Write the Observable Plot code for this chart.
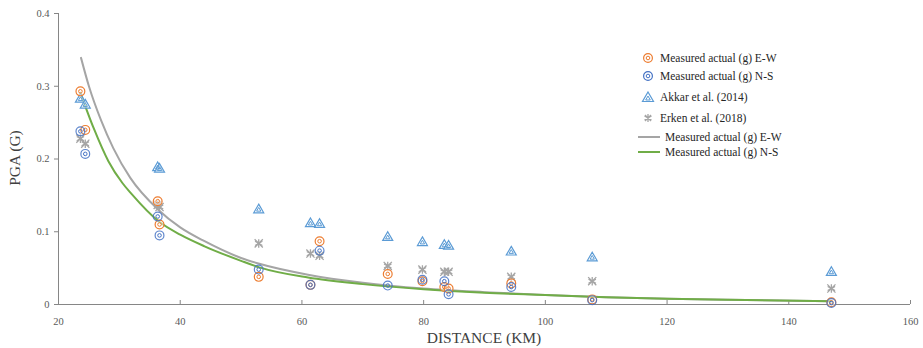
<!DOCTYPE html>
<html>
<head>
<meta charset="utf-8">
<script src="https://cdn.jsdelivr.net/npm/d3@7"></script>
<script src="https://cdn.jsdelivr.net/npm/@observablehq/plot@0.6"></script>
<style>
  html, body { margin: 0; padding: 0; background: #fff; }
  #wrap { position: relative; width: 923px; height: 348px; font-family: "Liberation Serif", "Times New Roman", serif; }
  #legend { position: absolute; left: 636px; top: 50px; font-size: 11.5px; color: #262626; font-family: "Liberation Serif", "Times New Roman", serif; }
  #legend .row { position: absolute; white-space: nowrap; display: flex; align-items: center; }
  #legend svg { display: block; }
</style>
</head>
<body>
<div id="wrap"></div>
<script>
// Station distances (km)
const distances = [23.6, 24.4, 36.3, 36.6, 52.9, 61.4, 62.9, 74.1, 79.8, 83.4, 84.1, 94.4, 107.7, 147.0];
// PGA (g) series
const measuredEW = [0.293, 0.240, 0.142, 0.110, 0.038, 0.027, 0.087, 0.042, 0.032, 0.024, 0.022, 0.029, 0.007, 0.003];
const measuredNS = [0.238, 0.207, 0.121, 0.095, 0.048, 0.027, 0.074, 0.026, 0.034, 0.032, 0.014, 0.024, 0.006, 0.002];
const akkar2014  = [0.282, 0.274, 0.188, 0.186, 0.130, 0.111, 0.110, 0.092, 0.085, 0.081, 0.080, 0.072, 0.064, 0.044];
const erken2018  = [0.228, 0.221, 0.137, 0.134, 0.084, 0.070, 0.067, 0.053, 0.048, 0.045, 0.045, 0.038, 0.032, 0.022];

// Trend lines
const trendEWDist = [23.7, 25, 27, 29, 31.8, 36.3, 40, 44, 50, 53, 61, 70, 80, 90, 100, 110, 120, 130, 147];
const trendEWPga  = [0.339, 0.300, 0.253, 0.215, 0.174, 0.131, 0.106, 0.087, 0.064, 0.056, 0.041, 0.030, 0.022, 0.017, 0.013, 0.010, 0.008, 0.0065, 0.0045];
const trendNSDist = [23.6, 25.8, 28.2, 30.5, 32, 36.5, 40, 44, 50, 53, 61, 70, 80, 90, 100, 110, 120, 130, 147];
const trendNSPga  = [0.291, 0.242, 0.197, 0.167, 0.152, 0.114, 0.096, 0.080, 0.060, 0.051, 0.037, 0.028, 0.021, 0.016, 0.013, 0.010, 0.008, 0.0065, 0.0045];

const xTicks = [20, 40, 60, 80, 100, 120, 140, 160];
const yTicks = [0, 0.1, 0.2, 0.3, 0.4];

const legendLabels = ["Measured actual (g) E-W", "Measured actual (g) N-S", "Akkar et al. (2014)", "Erken et al. (2018)", "Measured actual (g) E-W", "Measured actual (g) N-S"];

const C = { ew: "#ED7D31", ns: "#4472C4", akkar: "#5B9BD5", erken: "#A5A5A5", lineEW: "#A5A5A5", lineNS: "#70AD47", axis: "#868686", text: "#595959" };

const pts = (ys) => distances.map((d, i) => ({x: d, y: ys[i]}));
const line = (xs, ys) => xs.map((d, i) => ({x: d, y: ys[i]}));

const ew = pts(measuredEW), ns = pts(measuredNS), ak = pts(akkar2014), er = pts(erken2018);

const chart = Plot.plot({
  width: 923,
  height: 348,
  marginTop: 13,
  marginRight: 13,
  marginBottom: 44,
  marginLeft: 58,
  style: { fontFamily: '"Liberation Serif", "Times New Roman", serif', background: "#fff" },
  x: { domain: [20, 160], ticks: xTicks },
  y: { domain: [0, 0.4], ticks: yTicks },
  marks: [
    Plot.ruleY([0], { stroke: C.axis, strokeWidth: 1 }),
    Plot.ruleX([20], { stroke: C.axis, strokeWidth: 1 }),
    Plot.axisX({ ticks: xTicks, tickSize: -4, stroke: C.axis, tickPadding: 17, fontSize: 10.5, color: C.text, label: null, tickFormat: d => String(d) }),
    Plot.axisY({ ticks: yTicks, tickSize: 4, stroke: C.axis, tickPadding: 5, fontSize: 10.5, color: C.text, label: null, tickFormat: d => String(d) }),
    Plot.line(line(trendEWDist, trendEWPga), { x: "x", y: "y", stroke: C.lineEW, strokeWidth: 2, curve: "monotone-x" }),
    Plot.line(line(trendNSDist, trendNSPga), { x: "x", y: "y", stroke: C.lineNS, strokeWidth: 2, curve: "monotone-x" }),
    // Erken asterisks
    Plot.dot(er, { x: "x", y: "y", symbol: "asterisk", r: 4, stroke: C.erken, strokeWidth: 1.3 }),
    Plot.dot(er, { x: "x", y: "y", symbol: "times", r: 3.8, stroke: C.erken, strokeWidth: 1.3 }),
    // Akkar triangles
    Plot.dot(ak, { x: "x", y: "y", symbol: "triangle", r: 3.7, stroke: C.akkar, strokeWidth: 1.2, fill: "white", fillOpacity: 0.6 }),
    Plot.dot(ak, { x: "x", y: "y", symbol: "triangle", r: 1.6, stroke: C.akkar, strokeWidth: 1, fill: "none" }),
    // Measured E-W
    Plot.dot(ew, { x: "x", y: "y", r: 4.4, stroke: C.ew, strokeWidth: 1.2, fill: "white", fillOpacity: 0.5 }),
    Plot.dot(ew, { x: "x", y: "y", r: 1.8, stroke: C.ew, strokeWidth: 1, fill: "none" }),
    // Measured N-S
    Plot.dot(ns, { x: "x", y: "y", r: 4.4, stroke: C.ns, strokeWidth: 1.2, fill: "none", strokeOpacity: 0.85 }),
    Plot.dot(ns, { x: "x", y: "y", r: 1.8, stroke: C.ns, strokeWidth: 1, fill: "none" })
  ]
});

const wrap = document.getElementById("wrap");
wrap.appendChild(chart);

// Axis titles
const svgNS = "http://www.w3.org/2000/svg";
function addText(txt, x, y, rot) {
  const t = document.createElementNS(svgNS, "text");
  t.textContent = txt;
  t.setAttribute("x", x); t.setAttribute("y", y);
  t.setAttribute("text-anchor", "middle");
  t.setAttribute("font-size", "15.5");
  t.setAttribute("fill", "#404040");
  t.setAttribute("font-family", '"Liberation Serif", "Times New Roman", serif');
  if (rot) t.setAttribute("transform", `rotate(-90 ${x} ${y})`);
  chart.appendChild(t);
}
addText("DISTANCE (KM)", 484, 343, false);
addText("PGA (G)", 20, 158, true);

// Legend
const legend = document.createElement("div");
legend.id = "legend";
const rowsY = [2, 20, 41, 62, 81, 96];
const icons = [
  `<svg width="22" height="12"><circle cx="12" cy="6" r="4.4" stroke="${C.ew}" stroke-width="1.2" fill="white"/><circle cx="12" cy="6" r="1.8" stroke="${C.ew}" fill="none"/></svg>`,
  `<svg width="22" height="12"><circle cx="12" cy="6" r="4.4" stroke="${C.ns}" stroke-width="1.2" fill="white"/><circle cx="12" cy="6" r="1.8" stroke="${C.ns}" fill="none"/></svg>`,
  `<svg width="22" height="12"><path d="M12,1 L17.5,10.5 L6.5,10.5 Z" stroke="${C.akkar}" stroke-width="1.2" fill="white"/><path d="M12,5 L14.3,9 L9.7,9 Z" stroke="${C.akkar}" fill="none"/></svg>`,
  `<svg width="22" height="12"><path d="M12,2V10M8.5,4L15.5,8M8.5,8L15.5,4M9,3L15,9M9,9L15,3" stroke="${C.erken}" stroke-width="1.3"/></svg>`,
  `<svg width="28" height="12"><line x1="2" x2="24" y1="6" y2="6" stroke="${C.lineEW}" stroke-width="2"/></svg>`,
  `<svg width="28" height="12"><line x1="2" x2="24" y1="6" y2="6" stroke="${C.lineNS}" stroke-width="2"/></svg>`
];
legendLabels.forEach((lab, i) => {
  const r = document.createElement("div");
  r.className = "row";
  r.style.top = rowsY[i] + "px";
  r.style.left = "0px";
  r.innerHTML = icons[i] + `<span style="margin-left:${i < 4 ? 2 : 1}px">${lab}</span>`;
  legend.appendChild(r);
});
wrap.appendChild(legend);
</script>
</body>
</html>
